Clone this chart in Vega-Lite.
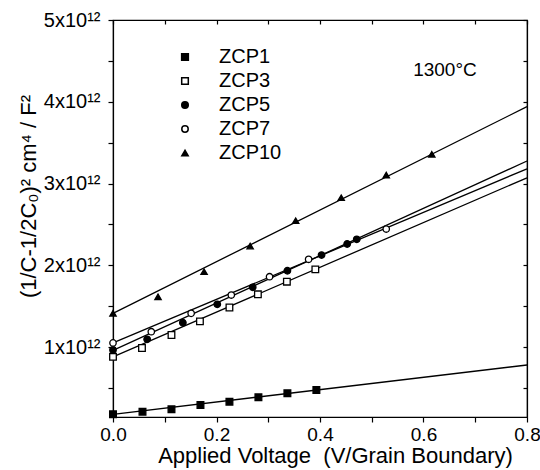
{
  "$schema": "https://vega.github.io/schema/vega-lite/v6.json",
  "width": 414,
  "height": 397,
  "autosize": {"type": "none"},
  "padding": {"left": 113, "top": 20, "right": 13, "bottom": 53},
  "background": "white",
  "config": {
    "view": {"stroke": "black", "strokeWidth": 1.2},
    "font": "Liberation Sans",
    "axis": {"domainColor": "black", "domainWidth": 1.2, "tickColor": "black", "tickWidth": 1.2, "labelColor": "black", "titleColor": "black", "grid": false, "labelFont": "Liberation Sans", "titleFont": "Liberation Sans", "titleFontWeight": "normal"},
    "legend": {"labelFont": "Liberation Sans", "labelColor": "black"}
  },
  "datasets": {
    "pts": [
      {"series": "ZCP1", "v": 0.0, "y": 0.177}, {"series": "ZCP1", "v": 0.057, "y": 0.209}, {"series": "ZCP1", "v": 0.113, "y": 0.238}, {"series": "ZCP1", "v": 0.169, "y": 0.29}, {"series": "ZCP1", "v": 0.225, "y": 0.331}, {"series": "ZCP1", "v": 0.281, "y": 0.385}, {"series": "ZCP1", "v": 0.337, "y": 0.434}, {"series": "ZCP1", "v": 0.393, "y": 0.474},
      {"series": "ZCP3", "v": 0.0, "y": 0.88}, {"series": "ZCP3", "v": 0.056, "y": 0.988}, {"series": "ZCP3", "v": 0.113, "y": 1.147}, {"series": "ZCP3", "v": 0.168, "y": 1.314}, {"series": "ZCP3", "v": 0.225, "y": 1.483}, {"series": "ZCP3", "v": 0.28, "y": 1.645}, {"series": "ZCP3", "v": 0.336, "y": 1.799}, {"series": "ZCP3", "v": 0.391, "y": 1.95},
      {"series": "ZCP5", "v": 0.0, "y": 0.965}, {"series": "ZCP5", "v": 0.066, "y": 1.094}, {"series": "ZCP5", "v": 0.135, "y": 1.297}, {"series": "ZCP5", "v": 0.2015, "y": 1.522}, {"series": "ZCP5", "v": 0.27, "y": 1.73}, {"series": "ZCP5", "v": 0.337, "y": 1.933}, {"series": "ZCP5", "v": 0.403, "y": 2.125}, {"series": "ZCP5", "v": 0.4525, "y": 2.26}, {"series": "ZCP5", "v": 0.471, "y": 2.317},
      {"series": "ZCP7", "v": 0.0, "y": 1.05}, {"series": "ZCP7", "v": 0.074, "y": 1.187}, {"series": "ZCP7", "v": 0.151, "y": 1.412}, {"series": "ZCP7", "v": 0.2286, "y": 1.636}, {"series": "ZCP7", "v": 0.3025, "y": 1.86}, {"series": "ZCP7", "v": 0.378, "y": 2.073}, {"series": "ZCP7", "v": 0.528, "y": 2.443},
      {"series": "ZCP10", "v": 0.0, "y": 1.412}, {"series": "ZCP10", "v": 0.087, "y": 1.615}, {"series": "ZCP10", "v": 0.176, "y": 1.921}, {"series": "ZCP10", "v": 0.265, "y": 2.235}, {"series": "ZCP10", "v": 0.353, "y": 2.545}, {"series": "ZCP10", "v": 0.441, "y": 2.826}, {"series": "ZCP10", "v": 0.528, "y": 3.104}, {"series": "ZCP10", "v": 0.616, "y": 3.357}
    ],
    "fits": [
      {"series": "ZCP1", "v": 0.0, "y": 0.177}, {"series": "ZCP1", "v": 0.8, "y": 0.78},
      {"series": "ZCP3", "v": 0.0, "y": 0.88}, {"series": "ZCP3", "v": 0.8, "y": 3.07},
      {"series": "ZCP5", "v": 0.0, "y": 0.96}, {"series": "ZCP5", "v": 0.8, "y": 3.275},
      {"series": "ZCP7", "v": 0.0, "y": 1.05}, {"series": "ZCP7", "v": 0.8, "y": 3.18},
      {"series": "ZCP10", "v": 0.0, "y": 1.412}, {"series": "ZCP10", "v": 0.8, "y": 3.94}
    ],
    "note": [{"v": 0.58, "y": 4.39, "label": "1300°C"}]
  },
  "layer": [
    {
      "data": {"name": "fits"},
      "mark": {"type": "line", "color": "black", "strokeWidth": 1.3},
      "encoding": {
        "x": {"field": "v", "type": "quantitative", "scale": {"domain": [0, 0.8], "nice": false, "zero": false},
              "axis": {"orient": "top", "labels": false, "title": null, "tickSize": -4, "values": [0, 0.1, 0.2, 0.3, 0.4, 0.5, 0.6, 0.7, 0.8]}},
        "y": {"field": "y", "type": "quantitative", "scale": {"domain": [0.144, 5], "nice": false, "zero": false},
              "axis": {"orient": "right", "labels": false, "title": null, "tickSize": -4, "values": [0.5, 1, 1.5, 2, 2.5, 3, 3.5, 4, 4.5, 5]}},
        "detail": {"field": "series"}
      }
    },
    {
      "data": {"name": "pts"},
      "mark": {"type": "point", "filled": true, "strokeWidth": 1.3, "opacity": 1},
      "encoding": {
        "x": {"field": "v", "type": "quantitative", "scale": {"domain": [0, 0.8], "nice": false, "zero": false},
              "axis": {"orient": "bottom", "title": "Applied Voltage \u00a0(V/Grain Boundary)", "titleFontSize": 22, "titlePadding": 1, "titleX": 222,
                       "labelFontSize": 19, "labelPadding": 3, "tickSize": 5, "labelFlush": false,
                       "values": [0, 0.1, 0.2, 0.3, 0.4, 0.5, 0.6, 0.7, 0.8],
                       "labelExpr": "round(datum.value*10) % 2 == 0 ? format(datum.value, '.1f') : ''"}},
        "y": {"field": "y", "type": "quantitative", "scale": {"domain": [0.144, 5], "nice": false, "zero": false},
              "axis": {"orient": "left", "title": "(1/C-1/2C₀)² cm⁴ / F²", "titleFontSize": 22, "titlePadding": 3, "titleY": 176,
                       "labelFontSize": 20, "labelPadding": 8, "tickSize": 5, "labelFlush": false,
                       "values": [0.5, 1, 1.5, 2, 2.5, 3, 3.5, 4, 4.5, 5],
                       "labelExpr": "datum.value % 1 == 0 ? datum.value + 'x10¹²' : ''"}},
        "shape": {"field": "series", "type": "nominal",
                  "scale": {"domain": ["ZCP1", "ZCP3", "ZCP5", "ZCP7", "ZCP10"], "range": ["square", "square", "circle", "circle", "triangle-up"]},
                  "legend": {"orient": "none", "legendX": 62, "legendY": 27, "title": null, "labelFontSize": 20, "rowPadding": 4, "labelOffset": 24, "padding": 0}},
        "fill": {"field": "series", "type": "nominal",
                 "scale": {"domain": ["ZCP1", "ZCP3", "ZCP5", "ZCP7", "ZCP10"], "range": ["black", "white", "black", "white", "black"]},
                 "legend": {"orient": "none", "legendX": 62, "legendY": 27, "title": null, "labelFontSize": 20, "rowPadding": 4, "labelOffset": 24, "padding": 0}},
        "stroke": {"field": "series", "type": "nominal",
                 "scale": {"domain": ["ZCP1", "ZCP3", "ZCP5", "ZCP7", "ZCP10"], "range": ["black", "black", "black", "black", "black"]},
                 "legend": {"orient": "none", "legendX": 62, "legendY": 27, "title": null, "labelFontSize": 20, "rowPadding": 4, "labelOffset": 24, "padding": 0}},
        "size": {"field": "series", "type": "nominal",
                 "scale": {"domain": ["ZCP1", "ZCP3", "ZCP5", "ZCP7", "ZCP10"], "range": [45, 40, 45, 40, 75]},
                 "legend": {"orient": "none", "legendX": 62, "legendY": 27, "title": null, "labelFontSize": 20, "rowPadding": 4, "labelOffset": 24, "padding": 0}}
      }
    },
    {
      "data": {"name": "note"},
      "mark": {"type": "text", "fontSize": 19, "align": "left", "baseline": "middle", "color": "black", "font": "Liberation Sans"},
      "encoding": {
        "x": {"field": "v", "type": "quantitative", "scale": {"domain": [0, 0.8], "nice": false, "zero": false}, "axis": null},
        "y": {"field": "y", "type": "quantitative", "scale": {"domain": [0.144, 5], "nice": false, "zero": false}, "axis": null},
        "text": {"field": "label"}
      }
    }
  ],
  "resolve": {"axis": {"x": "independent", "y": "independent"}}
}
